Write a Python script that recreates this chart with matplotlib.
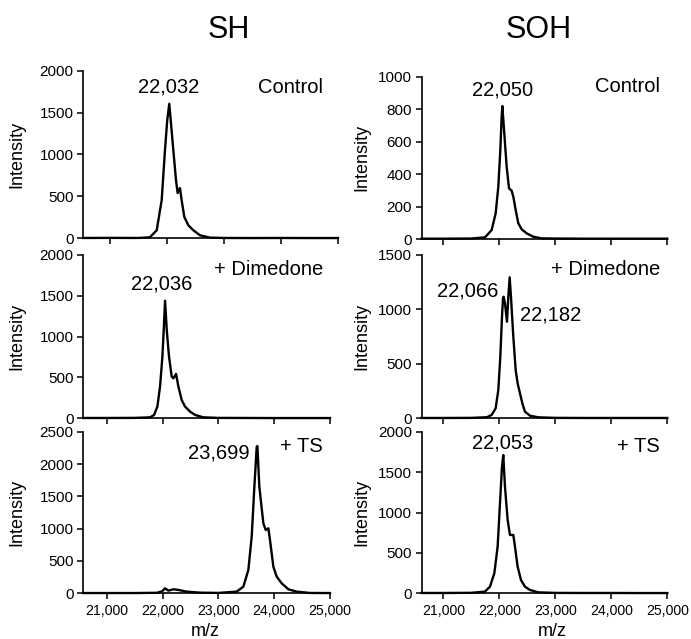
import matplotlib
matplotlib.use("Agg")
import matplotlib.pyplot as plt

# values (m/z, intensity)
sh_control_mz = [20532, 21000, 21500, 21700, 21820, 21907, 21965, 22005, 22040, 22065, 22111, 22158,
                 22187, 22228, 22257, 22304, 22374, 22462, 22579, 22754, 23000, 23500, 24000, 24500, 25000]
sh_control_int = [4, 5, 4, 12, 96, 455, 1054, 1413, 1605, 1413, 1054, 695,
                  540, 600, 455, 255, 156, 96, 36, 8, 4, 3, 4, 3, 3]

sh_dimedone_mz = [20580, 21000, 21500, 21776, 21848, 21907, 21955, 21997, 22021, 22045, 22075, 22116,
                  22164, 22194, 22242, 22284, 22343, 22403, 22493, 22582, 22731, 23000, 23500, 24000, 24500, 25000]
sh_dimedone_int = [4, 4, 5, 12, 41, 143, 388, 755, 1082, 1441, 1082, 755,
                   510, 490, 543, 388, 224, 143, 82, 41, 12, 5, 4, 3, 3, 3]

sh_ts_mz = [20580, 21000, 21500, 21900, 21990, 22045, 22105, 22194, 22284, 22433, 22672, 23000, 23328,
            23448, 23537, 23597, 23645, 23687, 23699, 23734, 23806, 23848, 23896, 23925, 23985,
            24045, 24134, 24254, 24403, 24642, 25000]
sh_ts_int = [4, 4, 4, 8, 30, 77, 41, 62, 52, 26, 10, 6, 26,
             103, 361, 876, 1649, 2268, 2278, 1649, 1082, 979, 1005, 825, 412,
             258, 155, 62, 26, 5, 4]

soh_control_mz = [20614, 21000, 21500, 21744, 21863, 21935, 21982, 22018, 22042, 22054, 22089, 22131,
                  22173, 22220, 22250, 22292, 22339, 22399, 22488, 22607, 22756, 23000, 23500, 24000, 24500, 25000]
soh_control_int = [2, 2, 3, 10, 55, 158, 322, 548, 754, 819, 651, 446,
                   312, 298, 261, 179, 97, 60, 35, 14, 4, 3, 2, 2, 2, 2]

soh_dimedone_mz = [20614, 21000, 21500, 21780, 21863, 21935, 21982, 22018, 22048, 22066, 22077, 22101,
                   22137, 22161, 22185, 22208, 22250, 22292, 22327, 22369, 22411, 22458, 22548, 22696,
                   23000, 23500, 24000, 24500, 25000]
soh_dimedone_int = [3, 3, 4, 10, 31, 92, 260, 566, 934, 1102, 1117, 1056,
                    888, 1117, 1295, 1117, 750, 444, 321, 230, 138, 61, 24, 9,
                    4, 3, 3, 3, 3]

soh_ts_mz = [20614, 21000, 21500, 21744, 21833, 21911, 21970, 22012, 22048, 22071, 22101, 22149,
             22190, 22250, 22280, 22327, 22387, 22458, 22548, 22696, 23000, 23500, 24000, 24500, 25000]
soh_ts_int = [4, 4, 6, 21, 82, 247, 577, 1113, 1567, 1711, 1320, 907,
              722, 722, 577, 330, 165, 82, 41, 12, 5, 4, 4, 3, 3]

x_ticks = [21000, 22000, 23000, 24000, 25000]
x_tick_labels = ["21,000", "22,000", "23,000", "24,000", "25,000"]

W, H = 691, 639
plt.rcParams["font.family"] = ["Liberation Sans", "DejaVu Sans"]


def px_box(x0, y0, x1, y1):
    return [x0 / W, 1 - y1 / H, (x1 - x0) / W, (y1 - y0) / H]


fig = plt.figure(figsize=(W / 100, H / 100), dpi=100)

panels = [
    # box, xmin, mz, intensity, ymax, ystep, peak labels, condition, ylabel x
    ((83.3, 70.7, 338, 238.3), 20532, sh_control_mz, sh_control_int, 2000, 500,
     [("22,032", 22035, 1805)], ("Control", 0.941, 0.897), -0.229),
    ((83.3, 255, 330, 418.3), 20580, sh_dimedone_mz, sh_dimedone_int, 2000, 500,
     [("22,036", 21991, 1645)], ("+ Dimedone", 0.972, 0.914), -0.236),
    ((83.3, 431.7, 330, 593.3), 20580, sh_ts_mz, sh_ts_int, 2500, 500,
     [("23,699", 23012, 2178)], ("+ TS", 0.972, 0.911), -0.236),
    ((421.7, 76.7, 667.3, 239), 20614, soh_control_mz, soh_control_int, 1000, 200,
     [("22,050", 22057, 918)], ("Control", 0.970, 0.937), -0.210),
    ((421.7, 255, 667.3, 418.3), 20614, soh_dimedone_mz, soh_dimedone_int, 1500, 500,
     [("22,066", 21432, 1169), ("22,182", 22923, 949)], ("+ Dimedone", 0.970, 0.914), -0.210),
    ((421.7, 431.7, 667.3, 593.3), 20614, soh_ts_mz, soh_ts_int, 2000, 500,
     [("22,053", 22057, 1860)], ("+ TS", 0.970, 0.911), -0.210),
]

for i, (box, xmin, mz, inten, ymax, ystep, peaks, cond, ylab_x) in enumerate(panels):
    ax = fig.add_axes(px_box(*box))
    ax.plot(mz, inten, color="black", lw=1.7, clip_on=False)
    ax.set_xlim(xmin, 25000)
    ax.set_ylim(0, ymax)
    ax.set_yticks(range(0, ymax + 1, ystep))
    ax.set_xticks(x_ticks)
    if i % 3 == 2:
        ax.set_xticklabels(x_tick_labels)
    else:
        ax.set_xticklabels([])
    for s in ["top", "right"]:
        ax.spines[s].set_visible(False)
    for s in ["left", "bottom"]:
        ax.spines[s].set_linewidth(1.2)
    ax.tick_params(direction="out", length=4, width=1.1, labelsize=11, pad=3)
    ax.tick_params(axis="x", labelsize=10.2, pad=4)
    ax.set_ylabel("Intensity", fontsize=13)
    ax.yaxis.set_label_coords(ylab_x, 0.5)

    for txt, x, y in peaks:
        ax.text(x, y, txt, fontsize=14.5, ha="center", va="center")
    ax.text(cond[1], cond[2], cond[0], fontsize=14.5,
            ha="right", va="center", transform=ax.transAxes)

fig.text(229 / W, 1 - 30 / H, "SH", fontsize=22, ha="center", va="center")
fig.text(539 / W, 1 - 30 / H, "SOH", fontsize=22, ha="center", va="center")
fig.text(205.5 / W, 1 - 631 / H, "m/z", fontsize=13, ha="center", va="center")
fig.text(552 / W, 1 - 631 / H, "m/z", fontsize=13, ha="center", va="center")

fig.savefig("out.png", dpi=100)
